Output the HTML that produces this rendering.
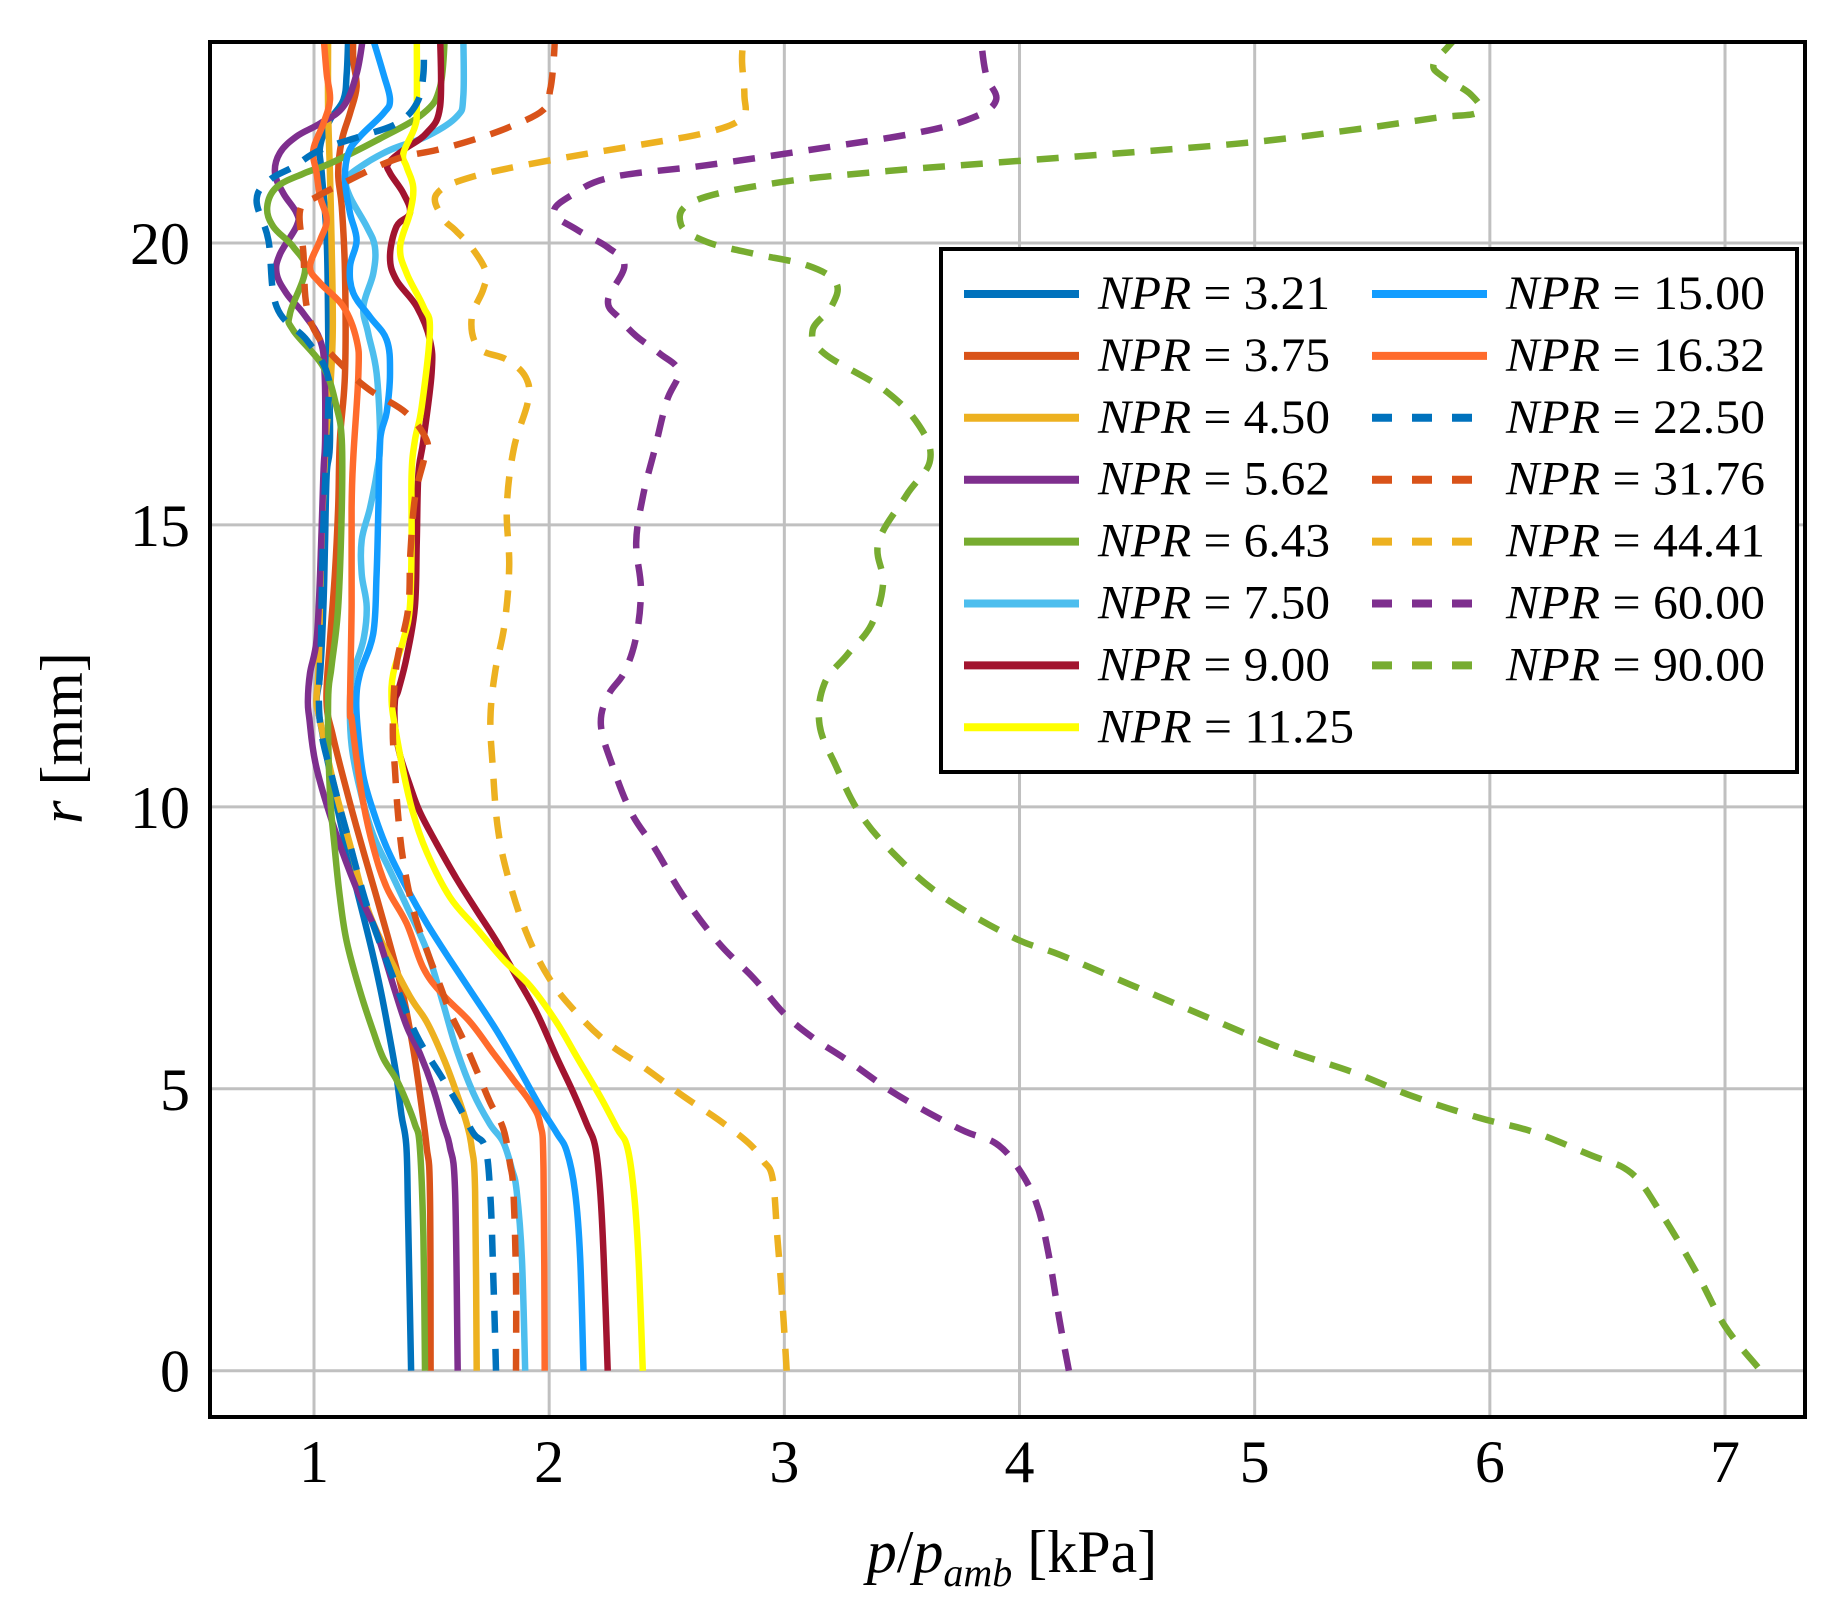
<!DOCTYPE html>
<html><head><meta charset="utf-8"><style>
html,body{margin:0;padding:0;background:#fff;}
svg{display:block;font-family:"Liberation Serif",serif;}
</style></head><body>
<svg id="chart" width="1846" height="1618" viewBox="0 0 1846 1618" xmlns="http://www.w3.org/2000/svg">
<rect x="0" y="0" width="1846" height="1618" fill="#fff"/>
<defs><clipPath id="plotclip"><rect x="210" y="42" width="1595" height="1375"/></clipPath></defs>
<g id="grid"></g>
<g id="series" clip-path="url(#plotclip)"></g>
<rect x="210" y="42" width="1595" height="1375" fill="none" stroke="#000" stroke-width="4"/>
<g id="ticks"></g>
<text x="1012" y="1572" font-size="60" text-anchor="middle"><tspan font-style="italic">p</tspan>/<tspan font-style="italic">p</tspan><tspan font-style="italic" font-size="40" dy="14">amb</tspan><tspan dy="-14"> [kPa]</tspan></text>
<text transform="translate(82,738) rotate(-90)" font-size="60" text-anchor="middle"><tspan font-style="italic">r</tspan> [mm]</text>
<g id="legend"></g>
</svg>
<script>
const NS="http://www.w3.org/2000/svg";
const xTicks=[1,2,3,4,5,6,7];
const yTicks=[0,5,10,15,20];
const labels=["3.21","3.75","4.50","5.62","6.43","7.50","9.00","11.25","15.00","16.32","22.50","31.76","44.41","60.00","90.00"];
const colors=["#0072BD","#D95319","#EDB120","#7E2F8E","#77AC30","#4DBEEE","#A2142F","#FFFF00","#139DFF","#FF6B2C","#0072BD","#D95319","#EDB120","#7E2F8E","#77AC30"];
const dashed=[0,0,0,0,0,0,0,0,0,0,1,1,1,1,1];
const s321=[[1.413,0],[1.40,2.71],[1.393,3.97],[1.372,4.53],[1.35,5.24],[1.32,5.95],[1.28,6.82],[1.237,7.61],[1.18,8.56],[1.124,9.51],[1.067,10.62],[1.024,11.57],[1.011,11.9],[1.026,12.37],[1.04,13.55],[1.047,14.73],[1.054,15.91],[1.068,16.5],[1.061,18.28],[1.054,20.05],[1.033,21.23],[1.026,21.71],[1.068,22.18],[1.125,22.54],[1.139,23.0],[1.146,23.7]];
const s375=[[1.496,0],[1.493,3.18],[1.479,3.97],[1.45,4.92],[1.422,5.71],[1.379,6.66],[1.33,7.45],[1.266,8.40],[1.195,9.43],[1.138,10.30],[1.081,11.25],[1.053,11.88],[1.068,12.95],[1.089,14.13],[1.103,15.32],[1.11,16.5],[1.132,17.69],[1.132,19.46],[1.118,20.64],[1.103,21.23],[1.118,21.82],[1.153,22.3],[1.181,22.77],[1.167,23.24],[1.167,23.7]];
const s450=[[1.692,0],[1.685,3.18],[1.67,3.97],[1.65,4.37],[1.607,4.92],[1.55,5.55],[1.479,6.19],[1.394,6.74],[1.237,8.09],[1.152,9.35],[1.081,10.46],[1.024,11.57],[1.01,11.88],[1.02,12.5],[1.03,14.5],[1.05,16.5],[1.07,17.5],[1.08,18.5],[1.075,20],[1.068,21.2],[1.06,22.4],[1.06,23.7]];
const s562=[[1.611,0],[1.60,3.18],[1.578,3.97],[1.55,4.37],[1.507,5.0],[1.45,5.63],[1.394,6.11],[1.338,6.82],[1.266,7.77],[1.18,8.56],[1.095,9.51],[1.01,10.70],[0.98,11.57],[0.974,11.88],[0.983,12.37],[1.011,12.96],[1.026,14.13],[1.04,15.9],[1.047,16.5],[1.045,17.69],[1.026,18.28],[0.955,18.75],[0.884,19.1],[0.841,19.46],[0.855,19.8],[0.926,20.3],[0.926,20.53],[0.87,20.88],[0.834,21.24],[0.855,21.6],[0.926,21.89],[1.026,22.12],[1.125,22.42],[1.181,23.0],[1.21,23.7]];
const s643=[[1.472,0],[1.465,2.39],[1.45,3.97],[1.429,4.37],[1.394,4.76],[1.351,5.16],[1.294,5.55],[1.251,6.03],[1.195,6.74],[1.139,7.61],[1.11,8.40],[1.088,9.27],[1.067,10.3],[1.06,11.88],[1.075,12.5],[1.103,13.55],[1.118,15.3],[1.118,16.5],[1.096,17.09],[1.04,17.80],[0.912,18.45],[0.898,18.75],[0.962,19.52],[0.912,19.93],[0.827,20.29],[0.801,20.64],[0.841,20.99],[0.955,21.23],[1.068,21.41],[1.266,21.82],[1.465,22.30],[1.536,22.77],[1.557,23.7]];
const s750=[[1.898,0],[1.884,1.99],[1.862,3.18],[1.841,3.58],[1.805,4.05],[1.749,4.37],[1.678,4.92],[1.605,5.71],[1.55,6.50],[1.48,7.45],[1.394,8.24],[1.322,8.88],[1.251,9.51],[1.196,10.3],[1.16,11.09],[1.153,11.88],[1.167,12.37],[1.21,12.96],[1.224,13.55],[1.203,14.13],[1.203,14.73],[1.238,15.3],[1.266,15.9],[1.281,16.5],[1.266,17.69],[1.231,18.39],[1.21,18.87],[1.252,19.46],[1.259,19.93],[1.224,20.29],[1.153,20.82],[1.139,21.12],[1.196,21.35],[1.323,21.65],[1.479,21.89],[1.607,22.24],[1.635,22.6],[1.635,23.7]];
const s900=[[2.249,0],[2.232,1.99],[2.217,3.18],[2.196,3.97],[2.16,4.37],[2.104,4.92],[2.033,5.55],[1.948,6.34],[1.862,6.98],[1.777,7.61],[1.692,8.16],[1.607,8.72],[1.521,9.35],[1.45,9.91],[1.408,10.38],[1.365,10.93],[1.345,11.41],[1.344,11.88],[1.359,12.07],[1.394,12.66],[1.429,13.55],[1.437,14.73],[1.444,15.9],[1.465,16.5],[1.50,17.69],[1.493,18.28],[1.437,18.87],[1.351,19.34],[1.323,19.75],[1.351,20.29],[1.408,20.53],[1.38,20.88],[1.323,21.24],[1.316,21.41],[1.38,21.65],[1.479,21.95],[1.536,22.42],[1.536,23.7]];
const s1125=[[2.398,0],[2.38,1.99],[2.36,3.18],[2.332,3.97],[2.29,4.29],[2.22,4.84],[2.12,5.55],[2.03,6.19],[1.92,6.82],[1.805,7.29],[1.69,7.85],[1.578,8.40],[1.48,9.19],[1.42,9.91],[1.38,10.62],[1.345,11.41],[1.33,11.88],[1.337,12.37],[1.38,12.96],[1.408,13.55],[1.415,14.73],[1.415,15.9],[1.429,16.5],[1.458,17.09],[1.493,18.45],[1.465,18.87],[1.394,19.46],[1.366,19.93],[1.408,20.53],[1.422,20.99],[1.394,21.35],[1.38,21.59],[1.429,22.06],[1.437,22.42],[1.437,23.7]];
const s1500=[[2.146,0],[2.132,1.99],[2.11,3.18],[2.075,3.89],[2.033,4.21],[1.962,4.68],[1.876,5.32],[1.777,6.03],[1.678,6.66],[1.578,7.29],[1.48,7.93],[1.394,8.56],[1.31,9.27],[1.253,9.91],[1.21,10.54],[1.189,11.25],[1.18,11.88],[1.196,12.37],[1.252,13.08],[1.266,14.13],[1.274,15.32],[1.281,16.5],[1.309,17.0],[1.323,17.69],[1.309,18.28],[1.238,18.69],[1.167,19.11],[1.153,19.58],[1.181,20.05],[1.153,20.53],[1.132,21.12],[1.146,21.59],[1.196,21.89],[1.295,22.30],[1.323,22.54],[1.295,23.0],[1.245,23.7]];
const s1632=[[1.981,0],[1.976,3.58],[1.962,4.37],[1.92,4.76],[1.848,5.16],[1.763,5.63],[1.663,6.19],[1.55,6.66],[1.465,7.14],[1.394,7.93],[1.31,8.56],[1.253,9.27],[1.21,10.06],[1.181,10.85],[1.16,11.57],[1.153,11.77],[1.16,13.55],[1.16,15.3],[1.167,16.2],[1.189,17.69],[1.181,18.28],[1.125,18.87],[1.026,19.29],[0.983,19.58],[1.026,20.05],[1.054,20.41],[1.026,20.82],[1.011,21.24],[0.997,21.65],[1.04,22.12],[1.068,22.54],[1.054,23.0],[1.04,23.7]];
const s2250=[[1.774,0],[1.763,1.60],[1.749,3.18],[1.727,3.97],[1.678,4.21],[1.607,4.76],[1.55,5.16],[1.436,5.95],[1.351,6.82],[1.237,8.09],[1.152,9.35],[1.081,10.46],[1.024,11.57],[1.03,13],[1.04,15],[1.06,17],[1.055,17.7],[0.969,18.28],[0.841,18.87],[0.806,20.05],[0.756,20.76],[0.813,21.12],[0.912,21.35],[1.026,21.65],[1.196,21.89],[1.352,22.12],[1.437,22.48],[1.465,23.0],[1.465,23.7]];
const s3176=[[1.859,0],[1.859,1.6],[1.848,3.18],[1.834,3.66],[1.805,4.29],[1.749,4.76],[1.692,5.32],[1.635,5.87],[1.58,6.34],[1.537,6.82],[1.48,7.45],[1.423,8.16],[1.38,9.03],[1.358,9.83],[1.345,10.62],[1.335,11.41],[1.35,12.5],[1.40,13.5],[1.41,14.5],[1.43,15.5],[1.47,16.2],[1.479,16.5],[1.394,16.98],[1.238,17.39],[1.139,17.75],[1.026,18.28],[0.969,18.87],[0.955,19.82],[0.941,20.58],[1.011,20.82],[1.153,21.12],[1.266,21.35],[1.38,21.53],[1.521,21.65],[1.677,21.83],[1.833,22.06],[1.975,22.36],[2.004,22.71],[2.018,23.18],[2.025,23.7]];
const s4441=[[3.01,0],[2.99,1.32],[2.97,2.38],[2.95,3.41],[2.91,3.72],[2.85,4.03],[2.72,4.45],[2.57,4.87],[2.40,5.39],[2.25,5.81],[2.12,6.33],[2.00,6.96],[1.90,7.80],[1.82,8.84],[1.78,9.68],[1.76,10.72],[1.75,11.56],[1.77,12.39],[1.81,13.23],[1.83,14.27],[1.82,15.32],[1.85,16.36],[1.91,17.20],[1.90,17.62],[1.82,17.93],[1.70,18.14],[1.67,18.66],[1.72,19.18],[1.73,19.50],[1.67,19.92],[1.60,20.23],[1.55,20.44],[1.52,20.86],[1.67,21.17],[2.02,21.48],[2.37,21.73],[2.67,21.96],[2.82,22.22],[2.83,22.63],[2.82,23.26],[2.83,23.7]];
const s6000=[[4.21,0],[4.17,0.90],[4.12,2.15],[4.07,2.99],[3.99,3.62],[3.90,4.03],[3.77,4.24],[3.62,4.56],[3.45,4.97],[3.27,5.50],[3.12,5.91],[3.00,6.33],[2.87,6.96],[2.72,7.59],[2.57,8.42],[2.45,9.26],[2.35,9.89],[2.27,10.72],[2.22,11.45],[2.25,11.97],[2.32,12.39],[2.37,13.02],[2.39,13.86],[2.37,14.69],[2.40,15.53],[2.45,16.36],[2.50,17.20],[2.55,17.72],[2.47,18.04],[2.37,18.35],[2.30,18.66],[2.25,18.98],[2.32,19.60],[2.25,19.92],[2.12,20.23],[2.02,20.54],[2.10,20.86],[2.27,21.17],[2.67,21.38],[3.17,21.69],[3.57,21.96],[3.80,22.22],[3.90,22.53],[3.86,22.95],[3.84,23.47],[3.84,23.7]];
const s9000=[[7.14,0.06],[7.00,0.79],[6.88,1.73],[6.73,2.78],[6.60,3.51],[6.43,3.82],[6.18,4.24],[5.95,4.49],[5.67,4.87],[5.42,5.29],[5.12,5.71],[4.82,6.23],[4.47,6.85],[4.17,7.38],[3.97,7.69],[3.67,8.42],[3.47,9.15],[3.32,9.89],[3.22,10.72],[3.15,11.45],[3.17,12.18],[3.27,12.71],[3.37,13.23],[3.42,13.96],[3.40,14.69],[3.52,15.53],[3.62,16.15],[3.57,16.78],[3.42,17.41],[3.17,18.04],[3.12,18.45],[3.20,18.87],[3.22,19.29],[3.10,19.60],[2.87,19.81],[2.67,20.02],[2.56,20.33],[2.62,20.75],[2.97,21.07],[3.42,21.27],[4.07,21.48],[4.92,21.76],[5.42,22.01],[5.77,22.22],[5.95,22.32],[5.92,22.63],[5.80,22.95],[5.76,23.16],[5.82,23.47],[5.87,23.7]];
const allSeries=[s321,s375,s450,s562,s643,s750,s900,s1125,s1500,s1632,s2250,s3176,s4441,s6000,s9000];

const X0=314, XU=235.17, Y0=1370.7, YU=56.385;
function sx(v){return X0+(v-1)*XU;}
function sy(v){return Y0-v*YU;}
const grid=document.getElementById('grid'), ticks=document.getElementById('ticks'), series=document.getElementById('series'), legend=document.getElementById('legend');
function mk(tag,attrs,parent){const e=document.createElementNS(NS,tag);for(const k in attrs)e.setAttribute(k,attrs[k]);parent.appendChild(e);return e;}
function smoothPath(pts){
  let d='M'+pts[0][0].toFixed(1)+','+pts[0][1].toFixed(1);
  for(let i=0;i<pts.length-1;i++){
    const p0=pts[Math.max(0,i-1)],p1=pts[i],p2=pts[i+1],p3=pts[Math.min(pts.length-1,i+2)];
    const t=0.18;
    const c1=[p1[0]+(p2[0]-p0[0])*t,p1[1]+(p2[1]-p0[1])*t];
    const c2=[p2[0]-(p3[0]-p1[0])*t,p2[1]-(p3[1]-p1[1])*t];
    d+=' C'+c1[0].toFixed(1)+','+c1[1].toFixed(1)+' '+c2[0].toFixed(1)+','+c2[1].toFixed(1)+' '+p2[0].toFixed(1)+','+p2[1].toFixed(1);
  }
  return d;
}
xTicks.forEach(t=>{
  const l=mk('line',{x1:sx(t),x2:sx(t),y1:42,y2:1417,stroke:'#c0c0c0','stroke-width':3},grid);
  
  
  const tx=mk('text',{x:sx(t),y:1482,'font-size':60,'text-anchor':'middle'},ticks);
  tx.textContent=t;
  
  
});
yTicks.forEach(t=>{
  const l=mk('line',{x1:210,x2:1805,y1:sy(t),y2:sy(t),stroke:'#c0c0c0','stroke-width':3},grid);
  
  
  const tx=mk('text',{x:190,y:sy(t)+21,'font-size':60,'text-anchor':'end'},ticks);
  tx.textContent=t;
  
  
});
allSeries.forEach((s,i)=>{
  const pts=s.map(p=>[sx(p[0]),sy(p[1])]);
  const attrs={d:smoothPath(pts),fill:'none',stroke:colors[i],'stroke-width':6.5,'stroke-linejoin':'round'};
  if(dashed[i]){attrs['stroke-dasharray']='22 16';}
  const p=mk('path',attrs,series);
  
  
});
mk('rect',{x:941,y:249,width:856,height:523,fill:'#fff',stroke:'#000','stroke-width':4},legend);
labels.forEach((lab,i)=>{
  const col=i<8?0:1, row=i<8?i:i-8;
  const cy=294+row*61.9;
  const lx=col?1372:964, tx=col?1506:1098;
  const la={x1:lx,x2:lx+115,y1:cy,y2:cy,stroke:colors[i],'stroke-width':8};
  if(dashed[i]){la['stroke-dasharray']='20 20';}
  const ln=mk('line',la,legend);
  
  
  const w=col?259:(lab.length>4?256:232);
  const t=mk('text',{x:tx,y:cy+15,'font-size':48,textLength:w,lengthAdjust:'spacingAndGlyphs'},legend);
  t.innerHTML='<tspan font-style="italic">NPR</tspan> = '+lab;
  
  
});
</script>
</body></html>
